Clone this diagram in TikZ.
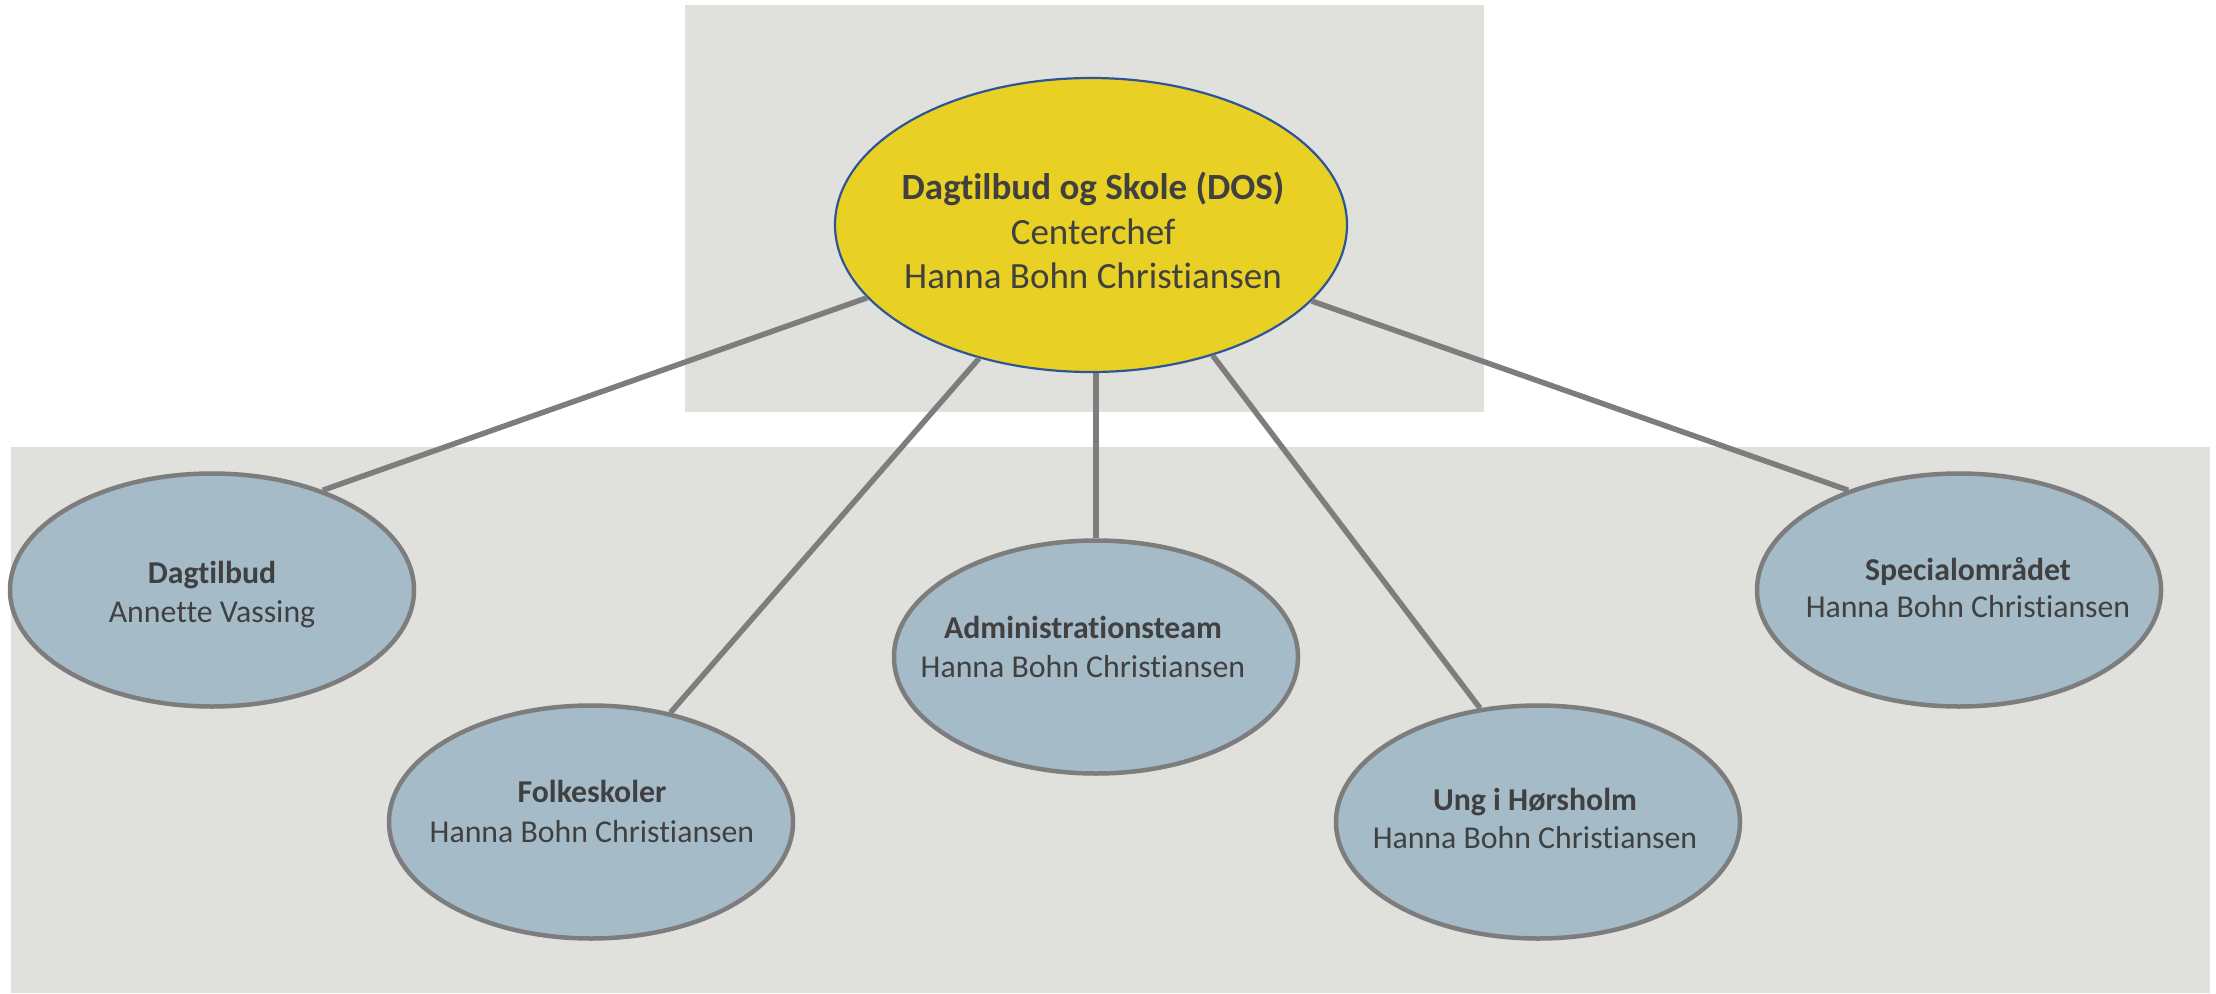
\documentclass[tikz,border=0pt]{standalone}
\usepackage{fontspec}
\setmainfont{Carlito}[Ligatures=NoCommon]
\usetikzlibrary{shapes.geometric}
\definecolor{bggray}{RGB}{224,224,220}
\definecolor{topyellow}{RGB}{232,208,36}
\definecolor{topblue}{RGB}{47,85,151}
\definecolor{childfill}{RGB}{165,187,200}
\definecolor{edgegray}{RGB}{125,125,125}
\definecolor{txtgray}{RGB}{64,64,64}
\begin{document}
\begin{tikzpicture}[x=1pt,y=-1pt,
  panel/.style={fill=bggray,draw=none},
  topell/.style={ellipse,fill=topyellow,draw=topblue,line width=2.2pt,minimum width=512pt,minimum height=294pt,inner sep=0pt},
  childell/.style={ellipse,fill=childfill,draw=edgegray,line width=4.5pt,minimum width=404pt,minimum height=233pt,inner sep=0pt},
  link/.style={draw=edgegray,line width=5.5pt},
  toptxt/.style={anchor=base,text=txtgray,font=\fontsize{37pt}{44pt}\selectfont,inner sep=0pt},
  toptxtb/.style={toptxt,font=\fontsize{37pt}{44pt}\selectfont\bfseries},
  ctxt/.style={anchor=base,text=txtgray,font=\fontsize{31.8pt}{38pt}\selectfont,inner sep=0pt},
  ctxtb/.style={ctxt,font=\fontsize{31.8pt}{38pt}\selectfont\bfseries},
]
\useasboundingbox (0,0) rectangle (2216,993);
\path[panel] (685,5) rectangle (1484,412);
\path[panel] (11,447) rectangle (2210,993);

\node[topell] (dos) at (1091,225) {};
\node[childell] (dag) at (212,590) {};
\node[childell] (folk) at (591,822) {};
\node[childell] (adm) at (1096,657) {};
\node[childell] (ung) at (1538,822) {};
\node[childell] (spec) at (1959,590) {};

\draw[link] (dos.198.7) -- (dag.42);
\draw[link] (dos.230.4) -- (folk.54.8);
\draw[link] (adm.north) -- (adm.north |- dos.south);
\draw[link] (dos.313) -- (ung.117.2);
\draw[link] (dos.341.3) -- (spec.138);

\node[toptxtb] (dosa) at (1093,199.5) {Dagtilbud og Skole (DOS)};
\node[toptxt] (dosb) at (1093,244) {Centerchef};
\node[toptxt] (dosc) at (1093,288.5) {Hanna Bohn Christiansen};

\node[ctxtb] (daga) at (212,583) {Dagtilbud};
\node[ctxt] (dagb) at (212,622) {Annette Vassing};

\node[ctxtb] (folka) at (592,802) {Folkeskoler};
\node[ctxt] (folkb) at (592,842) {Hanna Bohn Christiansen};

\node[ctxtb] (adma) at (1083,638) {Administrationsteam};
\node[ctxt] (admb) at (1083,677) {Hanna Bohn Christiansen};

\node[ctxtb] (unga) at (1535,810) {Ung i Hørsholm};
\node[ctxt] (ungb) at (1535,848) {Hanna Bohn Christiansen};

\node[ctxtb] (speca) at (1968,580) {Specialområdet};
\node[ctxt] (specb) at (1968,617) {Hanna Bohn Christiansen};
\end{tikzpicture}
\end{document}
